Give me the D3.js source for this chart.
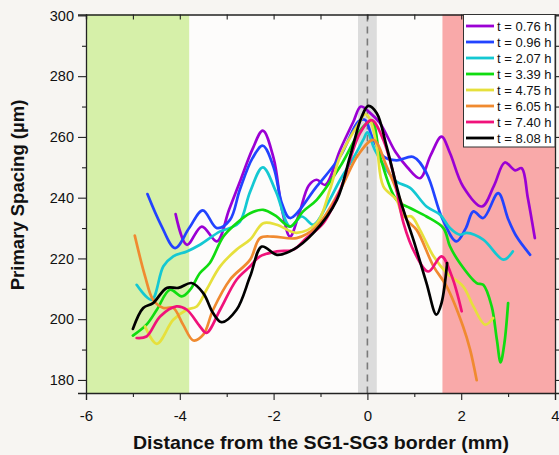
<!DOCTYPE html>
<html><head><meta charset="utf-8">
<script src="https://cdn.jsdelivr.net/npm/d3@7"></script>
<style>
html,body{margin:0;padding:0;background:#f7f5f2;}
svg{display:block;font-family:Arial,"Liberation Sans",sans-serif;}
</style></head><body>
<svg id="c" width="559" height="455"></svg>
<script>
// ---- data ----
const seriesLabels = ["t = 0.76 h","t = 0.96 h","t = 2.07 h","t = 3.39 h","t = 4.75 h","t = 6.05 h","t = 7.40 h","t = 8.08 h"];
const seriesColors = ["#9b00d4","#2243ff","#14c8d2","#10dc10","#e6e03c","#f08a30","#f0127a","#000000"];
const xTicks = [-6,-4,-2,0,2,4];
const yTicks = [180,200,220,240,260,280,300];
const regionGreen = [-6,-3.8];
const regionGrey = [-0.2,0.2];
const regionRed = [1.6,4];

const s076 = [[-4.09,234.6],[-3.85,224.5],[-3.53,230.5],[-3.21,225.6],[-2.95,236],[-2.7,246],[-2.45,256],[-2.23,262.1],[-2.0,253],[-1.82,236],[-1.65,227.2],[-1.45,235],[-1.25,244],[-1.08,245.9],[-0.9,244.2],[-0.58,255.8],[-0.3,265],[-0.14,270.0],[0.05,268],[0.27,264.5],[0.6,255],[0.85,250],[1.12,246.4],[1.35,254],[1.58,260.1],[1.76,254.7],[2.04,243.7],[2.44,237.1],[2.7,244],[2.93,251.6],[3.15,249.0],[3.29,249.7],[3.42,240],[3.57,226.7]];
const s096 = [[-4.69,241.2],[-4.4,231],[-4.10,223.4],[-3.8,230],[-3.51,235.8],[-3.21,230.0],[-2.93,232.7],[-2.72,242.6],[-2.45,253],[-2.23,257.1],[-2.0,250],[-1.82,238],[-1.65,233.3],[-1.08,243.7],[-0.58,253.6],[-0.19,265.1],[-0.05,265.6],[0.1,260],[0.34,253.6],[0.62,252.3],[0.98,253.4],[1.26,248.1],[1.6,233],[1.90,225.6],[2.1,230],[2.26,235.5],[2.47,233.3],[2.79,241.5],[3.0,233],[3.18,227.2],[3.47,221.2]];
const s207 = [[-4.92,211.3],[-4.60,206.4],[-4.35,217.4],[-4.14,220.7],[-3.85,222.3],[-3.57,224.5],[-3.14,228.9],[-2.93,230],[-2.72,232],[-2.5,242],[-2.23,250.0],[-1.95,242],[-1.65,230.5],[-1.40,233.8],[-1.15,231.1],[-0.85,238],[-0.58,245.9],[-0.3,253],[-0.09,259],[0.0,261.5],[0.15,256],[0.41,249.2],[0.62,245.3],[0.91,243.2],[1.26,237.1],[1.55,234.4],[1.76,230],[1.97,227.8],[2.12,228.4],[2.47,226.2],[2.90,219.6],[3.10,222.3]];
const s339 = [[-5.0,194.6],[-4.71,198.2],[-4.49,203.1],[-4.21,209.7],[-3.96,207.5],[-3.78,209.7],[-3.57,215.2],[-3.36,218.5],[-3.07,227.2],[-2.79,231.6],[-2.5,234.9],[-2.22,236],[-1.95,234],[-1.65,230.5],[-1.37,235.5],[-1.08,239.3],[-0.58,250.3],[-0.09,263.4],[0.1,265],[0.27,253.6],[0.62,239.3],[0.91,236.6],[1.26,233.8],[1.62,230],[1.76,224],[1.97,218.5],[2.33,211.9],[2.47,211.3],[2.65,204.2],[2.76,193.3],[2.84,185.8],[2.92,192],[3.0,205.3]];
const s475 = [[-4.74,197.6],[-4.49,191.9],[-4.14,199.8],[-3.85,203.1],[-3.64,204.2],[-3.43,209.7],[-3.14,217.4],[-2.79,222.9],[-2.5,226.2],[-2.22,231.6],[-1.93,231.1],[-1.51,228.4],[-1.08,231.6],[-0.80,242.6],[-0.58,253.6],[-0.16,265.1],[-0.05,267.5],[0.06,265.6],[0.2,256.8],[0.34,243.7],[0.62,239.3],[0.77,233.8],[0.94,233.8],[1.12,229.4],[1.41,220.7],[1.69,215.2],[2.04,210.8],[2.26,204.2],[2.51,198.2],[2.68,200.4]];
const s605 = [[-4.96,227.5],[-4.74,214.1],[-4.57,206.4],[-4.35,203.7],[-4.14,203.7],[-3.93,198.2],[-3.71,193],[-3.5,194.9],[-3.29,203.1],[-2.93,213],[-2.5,219.6],[-2.29,226.7],[-2.01,227.2],[-1.51,226.7],[-1.08,230.5],[-0.58,242.6],[-0.2,254],[0.13,259],[0.41,250.3],[0.70,239.3],[0.84,232.7],[1.05,229.4],[1.41,217.4],[1.69,210.8],[2.04,197.6],[2.19,190],[2.33,179.9]];
const s740 = [[-4.92,193.8],[-4.71,194.3],[-4.42,200.9],[-4.07,204.2],[-3.85,203.1],[-3.57,197.6],[-3.43,195.5],[-3.14,203.1],[-2.79,213],[-2.5,217.4],[-2.29,220.7],[-1.93,222.3],[-1.58,222.9],[-1.30,226.7],[-0.94,231.6],[-0.58,242.6],[-0.16,261.2],[0.09,265.5],[0.34,259],[0.55,248.1],[0.77,231.6],[1.01,221.8],[1.30,215.7],[1.58,220.7],[1.80,214.1],[2.01,202.6]];
const s808 = [[-5.0,196.8],[-4.78,203.7],[-4.57,205.3],[-4.28,210.3],[-4.03,210.3],[-3.75,211.9],[-3.5,208.6],[-3.29,202],[-3.11,199],[-2.79,203.1],[-2.5,214.1],[-2.25,223.9],[-1.93,221.2],[-1.58,222.9],[-1.15,228.4],[-0.65,239.3],[-0.37,253.6],[-0.12,266.7],[0.02,270.2],[0.2,267.8],[0.41,256.8],[0.70,239.3],[0.98,226.2],[1.26,211.9],[1.47,201.5],[1.58,205.3],[1.70,218.5]];
const allSeries = [s076,s096,s207,s339,s475,s605,s740,s808];

// ---- layout ----
const W=559,H=455;
const L=86,R=555,T=14.5,B=393;
const svg=d3.select("#c");
const x=d3.scaleLinear().domain([-6,4]).range([L,R]);
const y=d3.scaleLinear().domain([175.7,300.3]).range([B,T]);

svg.append("rect").attr("x",L).attr("y",T).attr("width",R-L).attr("height",B-T).attr("fill","#fdfcfb");

// shaded regions
svg.append("rect").attr("x",x(regionGreen[0])).attr("y",T).attr("width",x(regionGreen[1])-x(regionGreen[0])).attr("height",B-T).attr("fill","#d6f0a9");
svg.append("rect").attr("x",x(regionRed[0])).attr("y",T).attr("width",x(regionRed[1])-x(regionRed[0])).attr("height",B-T).attr("fill","#f9a9a9");
svg.append("rect").attr("x",x(regionGrey[0])).attr("y",T).attr("width",x(regionGrey[1])-x(regionGrey[0])).attr("height",B-T).attr("fill","#dcdcdc");
svg.append("line").attr("x1",x(0)).attr("x2",x(0)).attr("y1",T).attr("y2",B)
  .attr("stroke","#7a7a7a").attr("stroke-width",1.6).attr("stroke-dasharray","7,5");

// lines
const line=d3.line().x(d=>x(d[0])).y(d=>y(d[1])).curve(d3.curveCatmullRom.alpha(0.5));
const g=svg.append("g");
allSeries.forEach((s,i)=>{
  g.append("path").datum(s).attr("d",line).attr("fill","none")
   .attr("stroke",seriesColors[i]).attr("stroke-width",2.7).attr("stroke-linejoin","round").attr("stroke-linecap","round");
});

// axes
const ax="#222";
const axBottom=d3.axisBottom(x).tickValues(d3.range(-6,4.01,1)).tickSize(7)
  .tickFormat(d=>xTicks.includes(d)?String(d):"");
const gb=svg.append("g").attr("transform",`translate(0,${B})`).call(axBottom);
gb.selectAll(".tick").filter(d=>!xTicks.includes(d)).select("line").attr("y2",4);
gb.selectAll("text").attr("font-size",15).attr("fill","#111").attr("y",28).attr("dy",0);

const axLeft=d3.axisLeft(y).tickValues(d3.range(180,300.1,10)).tickSize(8)
  .tickFormat(d=>yTicks.includes(d)?d:"");
const gl=svg.append("g").attr("transform",`translate(${L},0)`).call(axLeft);
gl.selectAll(".tick").filter(d=>!yTicks.includes(d)).select("line").attr("x2",-4);
gl.selectAll("text").attr("font-size",14.5).attr("fill","#111").attr("x",-12);

const axTop=d3.axisTop(x).tickValues(d3.range(-6,4.01,1)).tickSize(-5).tickFormat("");
svg.append("g").attr("transform",`translate(0,${T})`).call(axTop);
const axRight=d3.axisRight(y).tickValues(d3.range(180,300.1,10)).tickSize(4).tickFormat("");
svg.append("g").attr("transform",`translate(${R},0)`).call(axRight);

svg.selectAll(".domain").attr("stroke",ax).attr("stroke-width",1.3);
svg.selectAll(".tick line").attr("stroke",ax).attr("stroke-width",1.1);

// titles
svg.append("text").attr("x",321).attr("y",449).attr("text-anchor","middle")
  .attr("font-size",18.5).attr("font-weight","bold").attr("fill","#111")
  .attr("textLength",376).attr("lengthAdjust","spacingAndGlyphs")
  .text("Distance from the SG1-SG3 border (mm)");
svg.append("text").attr("transform","translate(24,195) rotate(-90)").attr("text-anchor","middle")
  .attr("font-size",18.5).attr("font-weight","bold").attr("fill","#111")
  .text("Primary Spacing (µm)");

// legend
const lg=svg.append("g");
lg.append("rect").attr("x",463.5).attr("y",T).attr("width",R-463.5).attr("height",147-T)
  .attr("fill","#ffffff").attr("stroke","#333").attr("stroke-width",1);
seriesLabels.forEach((lab,i)=>{
  const cy=26+i*16;
  lg.append("line").attr("x1",466).attr("x2",494).attr("y1",cy).attr("y2",cy)
    .attr("stroke",seriesColors[i]).attr("stroke-width",2.8);
  lg.append("text").attr("x",497).attr("y",cy).attr("dy","0.36em").attr("font-size",13).attr("fill","#111").text(lab);
});
</script></body></html>
